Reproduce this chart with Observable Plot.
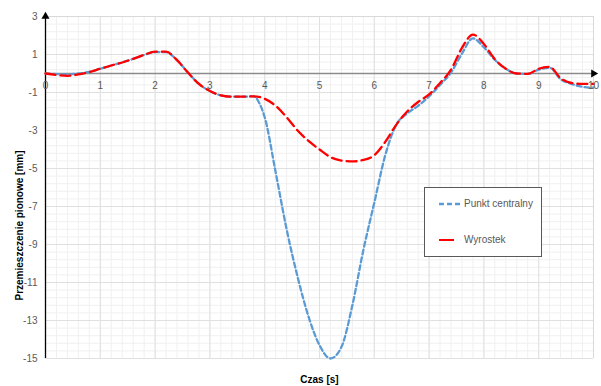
<!DOCTYPE html>
<html><head><meta charset="utf-8">
<script src="https://cdn.jsdelivr.net/npm/d3@7"></script>
<script src="https://cdn.jsdelivr.net/npm/@observablehq/plot@0.6"></script>
<style>
body{margin:0;background:#fff;font-family:"Liberation Sans",Arial,sans-serif;}
#wrap{position:relative;width:601px;height:386px;}
#legend{position:absolute;left:424px;top:187px;width:118px;height:70px;border:1px solid #595959;background:#fff;box-sizing:border-box;font-size:10px;color:#595959;}
.item{position:absolute;left:14px;display:flex;align-items:center;}
.item span{margin-left:3px;}
</style></head><body>
<div id="wrap"></div>
<script>
const seriesNames = ["Punkt centralny", "Wyrostek"];
const xTickLabels = [0,1,2,3,4,5,6,7,8,9,10];
const yTickLabels = [3,1,-1,-3,-5,-7,-9,-11,-13,-15];

const tBlue = [0,0.2,0.4,0.6,0.8,1.0,1.2,1.4,1.6,1.8,2.0,2.2,2.4,2.6,2.8,3.0,3.2,3.4,3.6,3.8,3.9,4.0,4.2,4.4,4.6,4.8,5.0,5.2,5.4,5.6,5.8,6.0,6.2,6.4,6.6,6.8,7.0,7.2,7.4,7.6,7.8,8.0,8.2,8.4,8.6,8.8,9.0,9.2,9.4,9.6,9.8,10];
const vBlue = [0,-0.03,-0.05,0,0.08,0.25,0.42,0.58,0.77,0.98,1.12,1.12,0.7,0.05,-0.55,-0.92,-1.15,-1.22,-1.22,-1.2,-1.55,-2.3,-5.2,-8.2,-10.7,-12.8,-14.3,-15.0,-14.4,-12.2,-9.3,-6.8,-4.3,-2.7,-2.1,-1.7,-1.2,-0.6,0.05,1.05,1.85,1.38,0.72,0.25,0.0,-0.02,0.2,0.3,-0.3,-0.55,-0.7,-0.75];

const tRed = [0,0.2,0.4,0.6,0.8,1.0,1.2,1.4,1.6,1.8,2.0,2.2,2.4,2.6,2.8,3.0,3.2,3.4,3.6,3.8,4.0,4.2,4.4,4.6,4.8,5.0,5.2,5.4,5.6,5.8,6.0,6.2,6.4,6.6,6.8,7.0,7.2,7.4,7.6,7.8,8.0,8.2,8.4,8.6,8.8,9.0,9.2,9.4,9.6,9.8,10];
const vRed = [0,-0.08,-0.12,-0.05,0.08,0.25,0.42,0.58,0.77,0.98,1.15,1.15,0.7,0.05,-0.55,-0.92,-1.15,-1.22,-1.22,-1.2,-1.33,-1.7,-2.3,-3.0,-3.55,-4.0,-4.4,-4.58,-4.63,-4.55,-4.3,-3.6,-2.7,-2.0,-1.5,-1.1,-0.5,0.2,1.35,2.05,1.55,0.75,0.25,0.0,-0.02,0.25,0.35,-0.25,-0.5,-0.55,-0.55];

const blue = tBlue.map((t,i)=>({t, v:vBlue[i]}));
const red = tRed.map((t,i)=>({t, v:vRed[i]}));

const minorX = d3.range(0, 10.001, 0.2).map(d=>+d.toFixed(2));
const minorY = d3.range(-15, 3.001, 0.4).map(d=>+d.toFixed(2));

const plot = Plot.plot({
  width: 601, height: 386,
  marginLeft: 45, marginRight: 8, marginTop: 16, marginBottom: 28,
  x: {domain: [0,10], axis: null},
  y: {domain: [-15,3], axis: null},
  style: {fontFamily: '"Liberation Sans", Arial, sans-serif', background: "#fff"},
  marks: [
    Plot.ruleX(minorX, {stroke: "#f0f0f0", strokeWidth: 1}),
    Plot.ruleY(minorY, {stroke: "#f0f0f0", strokeWidth: 1}),
    Plot.ruleX(xTickLabels, {stroke: "#e0e0e0", strokeWidth: 1}),
    Plot.ruleY(yTickLabels, {stroke: "#e0e0e0", strokeWidth: 1}),
    Plot.ruleY([3], {stroke: "#d9d9d9"}),
    Plot.ruleX([10], {stroke: "#d9d9d9"}),
    Plot.ruleY([0], {stroke: "#8c8c8c", strokeWidth: 1.5}),
    Plot.ruleX([0], {stroke: "#000", strokeWidth: 1.3}),
    Plot.dot([3], {x: 0, y: d=>d, symbol: "triangle", r: 3, fill: "#000", stroke: null}),
    Plot.dot([0], {x: 10, y: d=>d, symbol: "triangle", r: 3, fill: "#000", stroke: null, rotate: 90}),
    Plot.line(blue, {x: "t", y: "v", stroke: "#5B9BD5", strokeWidth: 2.3, strokeDasharray: "5,3", curve: "monotone-x"}),
    Plot.line(red, {x: "t", y: "v", stroke: "#FF0000", strokeWidth: 2.3, strokeDasharray: "10,5", curve: "monotone-x"}),
    Plot.text(xTickLabels, {x: d=>d, y: 0, text: d=>String(d), dy: 12, fill: "#595959", fontSize: 10}),
    Plot.text(yTickLabels, {x: 0, y: d=>d, text: d=>String(d), dx: -8, textAnchor: "end", fill: "#595959", fontSize: 10}),
    Plot.text(["Czas [s]"], {x: 5, y: -15, text: d=>d, dy: 21, fontWeight: "bold", fontSize: 10, fill: "#000"}),
    Plot.text(["Przemieszczenie pionowe [mm]"], {x: 0, y: -8, text: d=>d, dx: -26, dy: 0, rotate: -90, fontWeight: "bold", fontSize: 10, fill: "#000"})
  ]
});
document.getElementById("wrap").appendChild(plot);

const legend = document.createElement("div");
legend.id = "legend";
legend.innerHTML = `
<div class="item" style="top:10px"><svg width="22" height="8"><line x1="0" y1="4" x2="22" y2="4" stroke="#5B9BD5" stroke-width="2.5" stroke-dasharray="5,3"/></svg><span>${seriesNames[0]}</span></div>
<div class="item" style="top:46px"><svg width="22" height="8"><line x1="0" y1="4" x2="15" y2="4" stroke="#FF0000" stroke-width="2"/></svg><span style="margin-left:3px">${seriesNames[1]}</span></div>`;
document.getElementById("wrap").appendChild(legend);
</script>
</body></html>
